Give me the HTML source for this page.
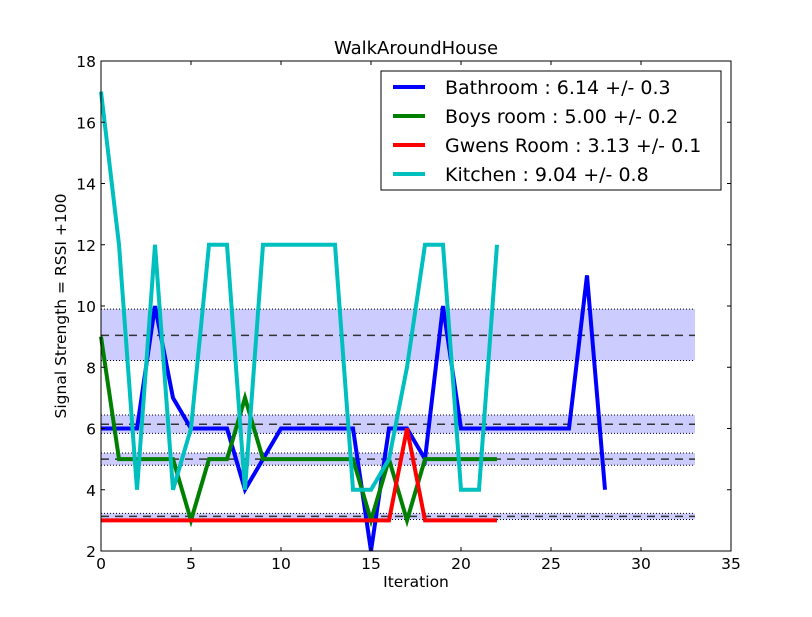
<!DOCTYPE html>
<html><head><meta charset="utf-8"><style>
body{margin:0;background:#fff;}
svg text{font-family:"DejaVu Sans","Liberation Sans",sans-serif;}
</style></head><body>
<svg id="chart" width="812" height="612" xmlns="http://www.w3.org/2000/svg">
<rect width="812" height="612" fill="#fff"/>
<g id="bands"></g>
<g id="lines"></g>
<rect x="101" y="61" width="630" height="490" fill="none" stroke="#000" stroke-width="1"/>
<g id="ticks"></g>
<text x="416" y="54" font-size="18" text-anchor="middle">WalkAroundHouse</text>
<text x="416" y="587" font-size="15.5" text-anchor="middle">Iteration</text>
<text transform="translate(66,306) rotate(-90)" font-size="15.5" text-anchor="middle">Signal Strength  = RSSI +100</text>
<g>
<rect x="381" y="71" width="340" height="119" fill="#fff" stroke="#000" stroke-width="1"/>
<g id="legend-entries"></g>
</g>
</svg>
<script>
const names = ["Bathroom : 6.14 +/- 0.3","Boys room : 5.00 +/- 0.2","Gwens Room : 3.13 +/- 0.1","Kitchen : 9.04 +/- 0.8"];
const colors = ["#0000ff","#008000","#ff0000","#00bfbf"];
const bathroom = [6,6,6,10,7,6,6,6,4,5,6,6,6,6,6,2,6,6,5,10,6,6,6,6,6,6,6,11,4];
const boysRoom = [9,5,5,5,5,3,5,5,7,5,5,5,5,5,5,3,5,3,5,5,5,5,5];
const gwensRoom = [3,3,3,3,3,3,3,3,3,3,3,3,3,3,3,3,3,6,3,3,3,3,3];
const kitchen = [17,12,4,12,4,6,12,12,4,12,12,12,12,12,4,4,5,8,12,12,4,4,12];
const means = [6.14,5.00,3.13,9.04];
const bandLow = [5.84,4.8,3.03,8.22];
const bandHigh = [6.44,5.2,3.23,9.9];
const xTicks = [0,5,10,15,20,25,30,35];
const yTicks = [2,4,6,8,10,12,14,16,18];
const series = [bathroom, boysRoom, gwensRoom, kitchen];
const NS="http://www.w3.org/2000/svg";
const X = v => 101 + v*18;
const Y = v => 551 - (v-2)*30.625;
function mk(tag, attrs, parent){const e=document.createElementNS(NS,tag);for(const k in attrs)e.setAttribute(k,attrs[k]);parent.appendChild(e);return e;}
const bands=document.getElementById('bands');
for(let i=0;i<means.length;i++){
  const r=mk('rect',{x:X(0),y:Y(bandHigh[i]),width:X(33)-X(0),height:Y(bandLow[i])-Y(bandHigh[i]),fill:'#ccccff'},bands);
  
  
  for(const v of [bandLow[i],bandHigh[i]]){
    const l=mk('line',{x1:X(0),x2:X(33),y1:Y(v),y2:Y(v),stroke:'#000','stroke-width':1,'stroke-dasharray':'1,2'},bands);
    
    
  }
  const m=mk('line',{x1:X(0),x2:X(33),y1:Y(means[i]),y2:Y(means[i]),stroke:'#333','stroke-width':1.5,'stroke-dasharray':'8,6'},bands);
  
  
}
const lines=document.getElementById('lines');
series.forEach((s,i)=>{
  const p=mk('polyline',{points:s.map((v,j)=>X(j)+','+Y(v)).join(' '),fill:'none',stroke:colors[i],'stroke-width':4,'stroke-linejoin':'miter'},lines);
  
  
});
const ticks=document.getElementById('ticks');
xTicks.forEach(t=>{
  mk('line',{x1:X(t),x2:X(t),y1:551,y2:547,stroke:'#000'},ticks);
  mk('line',{x1:X(t),x2:X(t),y1:61,y2:65,stroke:'#000'},ticks);
  const tx=mk('text',{x:X(t),y:569,'font-size':15.5,'text-anchor':'middle'},ticks);
  tx.textContent=t;
  
  
});
yTicks.forEach(t=>{
  mk('line',{x1:101,x2:105,y1:Y(t),y2:Y(t),stroke:'#000'},ticks);
  mk('line',{x1:731,x2:727,y1:Y(t),y2:Y(t),stroke:'#000'},ticks);
  const tx=mk('text',{x:96,y:Y(t)+6,'font-size':15.5,'text-anchor':'end'},ticks);
  tx.textContent=t;
  
  
});
const le=document.getElementById('legend-entries');
names.forEach((n,i)=>{
  const y=87+i*29;
  const l=mk('line',{x1:393,x2:425,y1:y,y2:y,stroke:colors[i],'stroke-width':4},le);
  
  
  const t=mk('text',{x:445,y:y+7,'font-size':19},le);
  t.textContent=n;
  
  
});
</script>
</body></html>
